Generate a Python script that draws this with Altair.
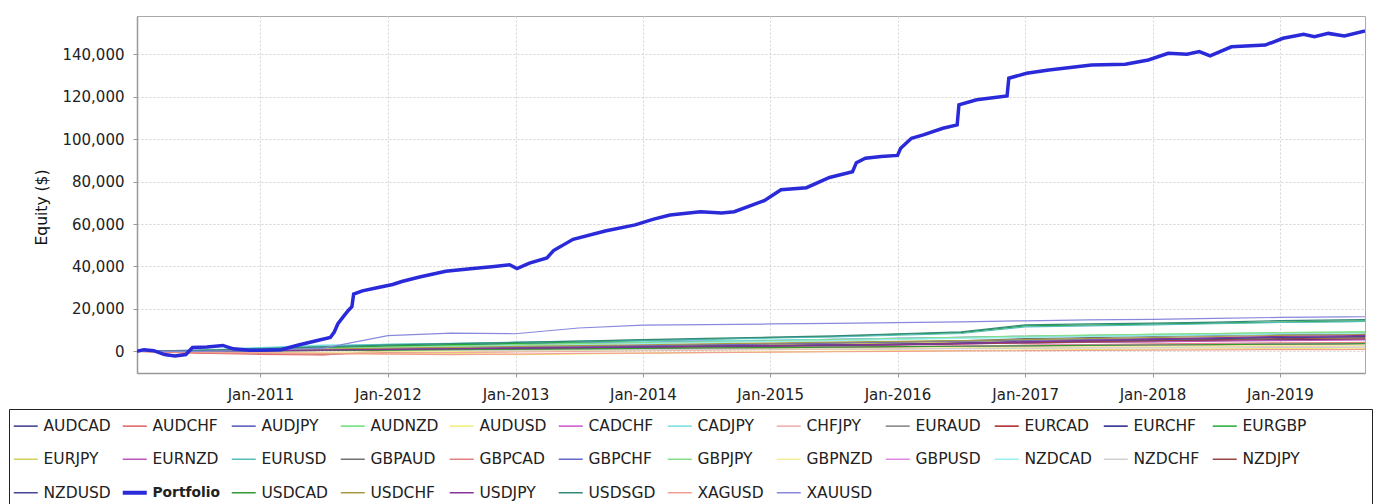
import altair as alt
import pandas as pd

FONT = "DejaVu Sans"

SERIES = ["AUDCAD", "AUDCHF", "AUDJPY", "AUDNZD", "AUDUSD", "CADCHF", "CADJPY", "CHFJPY",
          "EURAUD", "EURCAD", "EURCHF", "EURGBP", "EURJPY", "EURNZD", "EURUSD", "GBPAUD",
          "GBPCAD", "GBPCHF", "GBPJPY", "GBPNZD", "GBPUSD", "NZDCAD", "NZDCHF", "NZDJPY",
          "NZDUSD", "Portfolio", "USDCAD", "USDCHF", "USDJPY", "USDSGD", "XAGUSD", "XAUUSD"]
COLORS = ["#3a3a8c", "#e06060", "#5555bb", "#66dd77", "#f0ee70", "#cc55cc", "#77dddd", "#f0aaaa",
          "#808080", "#aa2222", "#222288", "#22aa33", "#d0d060", "#bb55bb", "#55bbbb", "#707070",
          "#e08080", "#6666cc", "#88dd88", "#f2ee99", "#e088e0", "#99eeee", "#d0d0d0", "#994444",
          "#444499", "#2a2ad8", "#339933", "#aa9944", "#883399", "#338877", "#f0a090", "#8888dd"]

DATES = ["2010-01-12", "2010-07-01", "2011-01-01", "2011-07-01", "2012-01-01", "2012-07-01",
         "2013-01-01", "2013-07-01", "2014-01-01", "2014-07-01", "2015-01-01", "2015-07-01",
         "2016-01-01", "2016-07-01", "2017-01-01", "2017-07-01", "2018-01-01", "2018-07-01",
         "2019-01-01", "2019-07-01", "2019-09-02"]

AUDCAD = [0, 400, 700, 900, 1300, 1600, 1900, 2300, 2600, 2900, 3100, 3400, 3700, 4100, 4600, 4900, 5100, 5300, 5600, 5700, 5800]
AUDCHF = [0, -900, -1400, -1700, 300, 600, 900, 1100, 1300, 1600, 1800, 1900, 2100, 2400, 2700, 2900, 3100, 3200, 3400, 3600, 3700]
AUDJPY = [0, 600, 1100, 1600, 2600, 3100, 3600, 4100, 4600, 4900, 5100, 5600, 6100, 6600, 7100, 7300, 7600, 7900, 8100, 8300, 8400]
AUDNZD = [0, 200, 500, 1300, 2200, 2700, 3100, 3600, 4000, 4400, 4800, 5200, 5800, 6400, 7000, 7500, 8000, 8400, 8800, 9100, 9200]
AUDUSD = [0, -300, -600, -800, -1200, -1000, -1500, -1200, -800, -500, -300, 0, 200, 400, 600, 800, 1000, 1200, 1300, 1500, 1500]
CADCHF = [0, 200, 400, 600, 800, 1000, 1200, 1400, 1500, 1700, 1900, 2000, 2200, 2400, 2600, 2800, 3000, 3200, 3400, 3500, 3600]
CADJPY = [0, 500, 1800, 2900, 3300, 3600, 3900, 4300, 4700, 5000, 5300, 5700, 6100, 6500, 7000, 7300, 7600, 8000, 8400, 8600, 8700]
CHFJPY = [0, -200, -500, -1000, -800, -600, -300, 0, 300, 600, 800, 1000, 1200, 1500, 1800, 2000, 2100, 2300, 2500, 2600, 2700]
EURAUD = [0, 100, 300, 500, 700, 900, 1200, 1500, 1800, 2100, 2500, 2800, 3200, 3600, 4000, 4300, 4600, 5000, 5400, 5700, 5800]
EURCAD = [0, 100, 400, 800, 1000, 1300, 1500, 1800, 2000, 2300, 2600, 3000, 3400, 4000, 4500, 4800, 5000, 5300, 5500, 5700, 5800]
EURCHF = [0, 300, 700, 1200, 1500, 1800, 2000, 2200, 2500, 2800, 3000, 3500, 3800, 4200, 4600, 5000, 5300, 5500, 5800, 6000, 6100]
EURGBP = [0, 300, 800, 1500, 2600, 3200, 3800, 4400, 5200, 5800, 6400, 7000, 8000, 8800, 12000, 12400, 12800, 13300, 13800, 14200, 14400]
EURJPY = [0, 200, 500, 800, 1200, 1500, 1800, 2200, 2600, 3000, 3300, 3600, 4000, 4400, 4800, 5200, 5500, 5800, 6000, 6200, 6300]
EURNZD = [0, 100, 200, 400, 700, 1000, 1300, 1600, 1900, 2200, 2500, 2800, 3100, 3500, 3900, 4200, 4500, 4800, 5100, 5300, 5400]
EURUSD = [0, 400, 1500, 2300, 3300, 3800, 4300, 4800, 5300, 5800, 6300, 6800, 7600, 8400, 11500, 12000, 12500, 13000, 13600, 13900, 14100]
GBPAUD = [0, 200, 400, 700, 1000, 1400, 1800, 2200, 2600, 3000, 3500, 4000, 4500, 5000, 6000, 6500, 7000, 7500, 8000, 8200, 8300]
GBPCAD = [0, -600, -1100, -1600, -500, 0, 300, 600, 900, 1200, 1500, 1800, 2100, 2500, 2900, 3200, 3500, 3800, 4000, 4100, 4200]
GBPCHF = [0, 200, 500, 800, 1200, 1600, 2000, 2400, 2800, 3200, 3600, 4000, 4400, 4800, 5200, 5600, 6000, 6300, 6600, 6800, 6900]
GBPJPY = [0, 300, 800, 1300, 1900, 2400, 2900, 3400, 3900, 4400, 4900, 5400, 6000, 6600, 7200, 7600, 8000, 8400, 8800, 9000, 9100]
GBPNZD = [0, 0, -300, -500, -200, 0, 300, 500, 700, 900, 1100, 1300, 1500, 1700, 1900, 2100, 2300, 2500, 2700, 2800, 2900]
GBPUSD = [0, 100, 300, 500, 700, 900, 1100, 1300, 1500, 1700, 1900, 2100, 2300, 2500, 2700, 2900, 3100, 3300, 3500, 3600, 3700]
NZDCAD = [0, 200, 600, 1100, 1600, 2100, 2600, 3100, 3600, 4100, 4600, 5100, 5600, 6100, 6600, 7000, 7400, 7800, 8200, 8400, 8500]
NZDCHF = [0, 100, 200, 300, 400, 500, 600, 700, 800, 900, 1000, 1100, 1200, 1300, 1400, 1500, 1600, 1700, 1800, 1900, 2000]
NZDJPY = [0, 200, 400, 600, 800, 1000, 1200, 1500, 1800, 2100, 2400, 2700, 3000, 3500, 4000, 4500, 5000, 5500, 6000, 6300, 6400]
NZDUSD = [0, 100, 300, 500, 800, 1100, 1400, 1700, 2000, 2300, 2600, 2900, 3200, 3800, 4500, 5000, 5500, 6000, 6500, 6800, 7000]
USDCAD = [0, 100, 200, 400, 600, 800, 1000, 1200, 1400, 1600, 1800, 2000, 2200, 2400, 2600, 2800, 3000, 3200, 3400, 3500, 3600]
USDCHF = [0, 300, 700, 1100, 1500, 1900, 2300, 2700, 3100, 3500, 3900, 4300, 4700, 5100, 5500, 6000, 6500, 7000, 7500, 7800, 8000]
USDJPY = [0, 100, 300, 600, 900, 1200, 1500, 1800, 2100, 2400, 2700, 3000, 3300, 3800, 4500, 5200, 5800, 6400, 7000, 7300, 7500]
USDSGD = [0, 300, 1200, 2100, 3000, 3600, 4200, 4800, 5500, 6100, 6700, 7300, 8300, 9200, 12500, 12900, 13300, 13800, 14500, 14800, 15000]
XAGUSD = [0, -300, -700, -1000, -1300, -1500, -1300, -1000, -800, -600, -400, -200, 0, 200, 300, 500, 600, 700, 800, 800, 900]
XAUUSD = [0, 0, 400, 1500, 7400, 8600, 8300, 11000, 12400, 12600, 12900, 13200, 13500, 13900, 14400, 14800, 15100, 15500, 16000, 16200, 16300]

PORTFOLIO_DATES = [
    "2010-01-12", "2010-02-01", "2010-03-01", "2010-04-01", "2010-05-01", "2010-06-01", "2010-06-20",
    "2010-08-01", "2010-09-15", "2010-10-15", "2010-12-01", "2011-01-01", "2011-03-01", "2011-04-20",
    "2011-06-10", "2011-07-20", "2011-07-31", "2011-08-11", "2011-08-27", "2011-09-11", "2011-09-20",
    "2011-09-25", "2011-10-20", "2011-12-01", "2012-01-15", "2012-02-10", "2012-04-01", "2012-06-15",
    "2012-09-01", "2012-11-01", "2012-12-15", "2013-01-05", "2013-02-10", "2013-04-01", "2013-04-20",
    "2013-06-15", "2013-09-15", "2013-12-10", "2014-02-01", "2014-03-20", "2014-06-15", "2014-08-15",
    "2014-09-20", "2014-12-15", "2015-02-01", "2015-04-15", "2015-06-20", "2015-08-25", "2015-09-05",
    "2015-10-01", "2015-11-15", "2016-01-01", "2016-01-10", "2016-02-10", "2016-03-15", "2016-05-10",
    "2016-06-20", "2016-06-25", "2016-08-15", "2016-11-10", "2016-11-15", "2017-01-05", "2017-03-10",
    "2017-07-10", "2017-10-15", "2017-12-20", "2018-02-15", "2018-04-10", "2018-05-15", "2018-06-15",
    "2018-08-15", "2018-11-20", "2019-01-10", "2019-03-10", "2019-04-10", "2019-05-20", "2019-07-05",
    "2019-09-02"]
PORTFOLIO = [
    0, 800, 300, -1500, -2200, -1500, 1800,
    2000, 2800, 1200, 500, 500, 800, 3000,
    5000, 6500, 9000, 13000, 16500, 19500, 21000,
    27000, 28500, 30000, 31500, 32900, 35000, 37700,
    39000, 40000, 40800, 39000, 41600, 44000, 47500,
    52800, 56700, 59600, 62300, 64200, 65800, 65200,
    65800, 71000, 76100, 77100, 81900, 84600, 88900,
    91000, 91800, 92300, 95700, 100400, 102000, 105100,
    106700, 116100, 118500, 120300, 128700, 131000, 132600,
    134900, 135300, 137300, 140400, 140000, 141200, 139200,
    143500, 144300, 147500, 149400, 148200, 149800, 148600,
    150900]

Y_TICKS = [0, 20000, 40000, 60000, 80000, 100000, 120000, 140000]
X_TICK_YEARS = [2011, 2012, 2013, 2014, 2015, 2016, 2017, 2018, 2019]

small = {
    "AUDCAD": AUDCAD, "AUDCHF": AUDCHF, "AUDJPY": AUDJPY, "AUDNZD": AUDNZD, "AUDUSD": AUDUSD,
    "CADCHF": CADCHF, "CADJPY": CADJPY, "CHFJPY": CHFJPY, "EURAUD": EURAUD, "EURCAD": EURCAD,
    "EURCHF": EURCHF, "EURGBP": EURGBP, "EURJPY": EURJPY, "EURNZD": EURNZD, "EURUSD": EURUSD,
    "GBPAUD": GBPAUD, "GBPCAD": GBPCAD, "GBPCHF": GBPCHF, "GBPJPY": GBPJPY, "GBPNZD": GBPNZD,
    "GBPUSD": GBPUSD, "NZDCAD": NZDCAD, "NZDCHF": NZDCHF, "NZDJPY": NZDJPY, "NZDUSD": NZDUSD,
    "USDCAD": USDCAD, "USDCHF": USDCHF, "USDJPY": USDJPY, "USDSGD": USDSGD, "XAGUSD": XAGUSD,
    "XAUUSD": XAUUSD,
}

rows = []
for name, vals in small.items():
    for d, v in zip(DATES, vals):
        rows.append({"series": name, "date": d, "value": v})
for d, v in zip(PORTFOLIO_DATES, PORTFOLIO):
    rows.append({"series": "Portfolio", "date": d, "value": v})
df = pd.DataFrame(rows)

legend = alt.Legend(
    title="\u00a0", titleOrient="right", titlePadding=57, titleFontSize=15,
    orient="none", legendX=-128, legendY=393, direction="horizontal", columns=12,
    gridAlign="all", symbolType="stroke", symbolSize=576, symbolLimit=40,
    symbolStrokeWidth=alt.ExprRef("datum.value === 'Portfolio' ? 4 : 1.5"),
    labelFont=FONT, labelColor="#222222", labelOffset=10,
    labelFontSize=alt.ExprRef("datum.value === 'Portfolio' ? 13.8 : 15.5"),
    labelFontWeight=alt.ExprRef("datum.value === 'Portfolio' ? 'bold' : 'normal'"),
    columnPadding=2, rowPadding=15.5, padding=9, strokeColor="#222222", fillColor="white",
)

color = alt.Color("series:N", scale=alt.Scale(domain=SERIES, range=COLORS), legend=legend)

x = alt.X(
    "date:T",
    scale=alt.Scale(type="utc", domain=[alt.DateTime(year=2010, month=1, date=12, utc=True),
                                        alt.DateTime(year=2019, month=9, date=2, utc=True)]),
    axis=alt.Axis(values=[alt.DateTime(year=y, month=1, date=1, utc=True) for y in X_TICK_YEARS],
                  format="%b-%Y", title=None, labelPadding=10),
)
y = alt.Y(
    "value:Q",
    scale=alt.Scale(domain=[-10200, 158000], nice=False, zero=False),
    axis=alt.Axis(values=Y_TICKS, format=",d", title="Equity ($)", labelPadding=9,
                  titleX=-96, titleY=191, titleBaseline="middle"),
)

base = alt.Chart(df)
lines = base.transform_filter(alt.datum.series != "Portfolio").mark_line(
    strokeWidth=1.2, clip=True).encode(x=x, y=y, color=color, detail="series:N")
port = base.transform_filter(alt.datum.series == "Portfolio").mark_line(
    strokeWidth=3.5, clip=True).encode(x=x, y=y, color=color)

chart = alt.layer(lines, port).properties(
    width=1228, height=357,
    padding={"left": 0, "top": 8, "right": 0, "bottom": 0},
    background="white",
).configure_view(
    stroke="#aaaaaa", strokeWidth=1,
).configure_axis(
    labelFont=FONT, labelFontSize=15, labelColor="#222222",
    titleFont=FONT, titleFontSize=15.5, titleFontWeight="normal", titleColor="#111111",
    grid=True, gridColor="#d4d4d4", gridDash=[2, 2], gridWidth=1,
    domainColor="#999999", domainWidth=1.5, tickColor="#999999", tickSize=4,
)

chart.save("out.html", embed_options={"renderer": "svg", "actions": False})
